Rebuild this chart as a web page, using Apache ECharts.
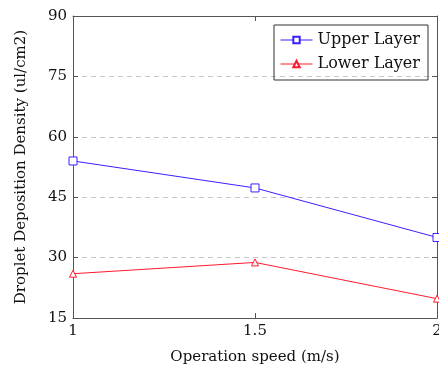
<!DOCTYPE html>
<html>
<head>
<meta charset="utf-8">
<script src="https://cdn.jsdelivr.net/npm/echarts@6/dist/echarts.min.js"></script>
<style>
  html, body { margin: 0; padding: 0; background: #fff; }
  #chart { width: 439px; height: 370px; }
</style>
</head>
<body>
<div id="chart"></div>
<script>
const speeds = [1, 1.5, 2]
const upperLayer = [54, 47.3, 35]
const lowerLayer = [26, 28.8, 19.8]
const yTicks = [15, 30, 45, 60, 75, 90]

const font = 'DejaVu Serif'
const axisColor = '#555'

const chart = echarts.init(document.getElementById('chart'))

const option = {
  backgroundColor: '#fff',
  animation: false,
  textStyle: { fontFamily: font },
  legend: {
    data: ['Upper Layer', 'Lower Layer'],
    orient: 'vertical',
    right: 11,
    top: 25,
    borderColor: '#333',
    borderWidth: 1,
    padding: [7, 8, 8, 6],
    itemGap: 8,
    itemWidth: 32,
    itemHeight: 8,
    lineStyle: { width: 1 },
    textStyle: { fontFamily: font, fontSize: 16, color: '#111' }
  },
  grid: { left: 73, right: 2, top: 16, bottom: 52, outerBoundsMode: 'none' },
  xAxis: [
    {
      type: 'value',
      min: 1,
      max: 2,
      interval: 0.5,
      name: 'Operation speed (m/s)',
      nameLocation: 'middle',
      nameGap: 32,
      nameTextStyle: { fontFamily: font, fontSize: 15, color: '#111' },
      axisLine: { lineStyle: { color: axisColor } },
      axisTick: { inside: true, length: 5, lineStyle: { color: axisColor } },
      axisLabel: { fontFamily: font, fontSize: 15, color: '#111', margin: 6 },
      splitLine: { show: false }
    },
    {
      type: 'value',
      position: 'top',
      min: 1,
      max: 2,
      interval: 0.5,
      axisLine: { show: true, lineStyle: { color: axisColor } },
      axisTick: { inside: true, length: 5, lineStyle: { color: axisColor } },
      axisLabel: { show: false },
      splitLine: { show: false }
    }
  ],
  yAxis: [
    {
      type: 'value',
      min: yTicks[0],
      max: yTicks[yTicks.length - 1],
      interval: 15,
      name: 'Droplet Deposition Density (ul/cm2)',
      nameLocation: 'middle',
      nameGap: 44,
      nameTextStyle: { fontFamily: font, fontSize: 15, color: '#111' },
      axisLine: { show: true, lineStyle: { color: axisColor } },
      axisTick: { show: true, inside: true, length: 5, lineStyle: { color: axisColor } },
      axisLabel: { fontFamily: font, fontSize: 15, color: '#111', margin: 6 },
      splitLine: { show: true, lineStyle: { color: '#c8c8c8', type: [5, 4] } }
    },
    {
      type: 'value',
      position: 'right',
      min: yTicks[0],
      max: yTicks[yTicks.length - 1],
      interval: 15,
      axisLine: { show: true, lineStyle: { color: axisColor } },
      axisTick: { show: true, inside: true, length: 5, lineStyle: { color: axisColor } },
      axisLabel: { show: false },
      splitLine: { show: false }
    }
  ],
  series: [
    {
      name: 'Upper Layer',
      type: 'line',
      data: speeds.map((s, i) => [s, upperLayer[i]]),
      symbol: 'rect',
      symbolSize: 8,
      itemStyle: { color: '#fff', borderColor: '#3a1fff', borderWidth: 1 },
      lineStyle: { color: '#3a1fff', width: 1 },
      clip: false
    },
    {
      name: 'Lower Layer',
      type: 'line',
      data: speeds.map((s, i) => [s, lowerLayer[i]]),
      symbol: 'triangle',
      symbolSize: 7,
      itemStyle: { color: '#fff', borderColor: '#ff1a2e', borderWidth: 1 },
      lineStyle: { color: '#ff1a2e', width: 1 },
      clip: false
    }
  ]
}

chart.setOption(option)
</script>
</body>
</html>
